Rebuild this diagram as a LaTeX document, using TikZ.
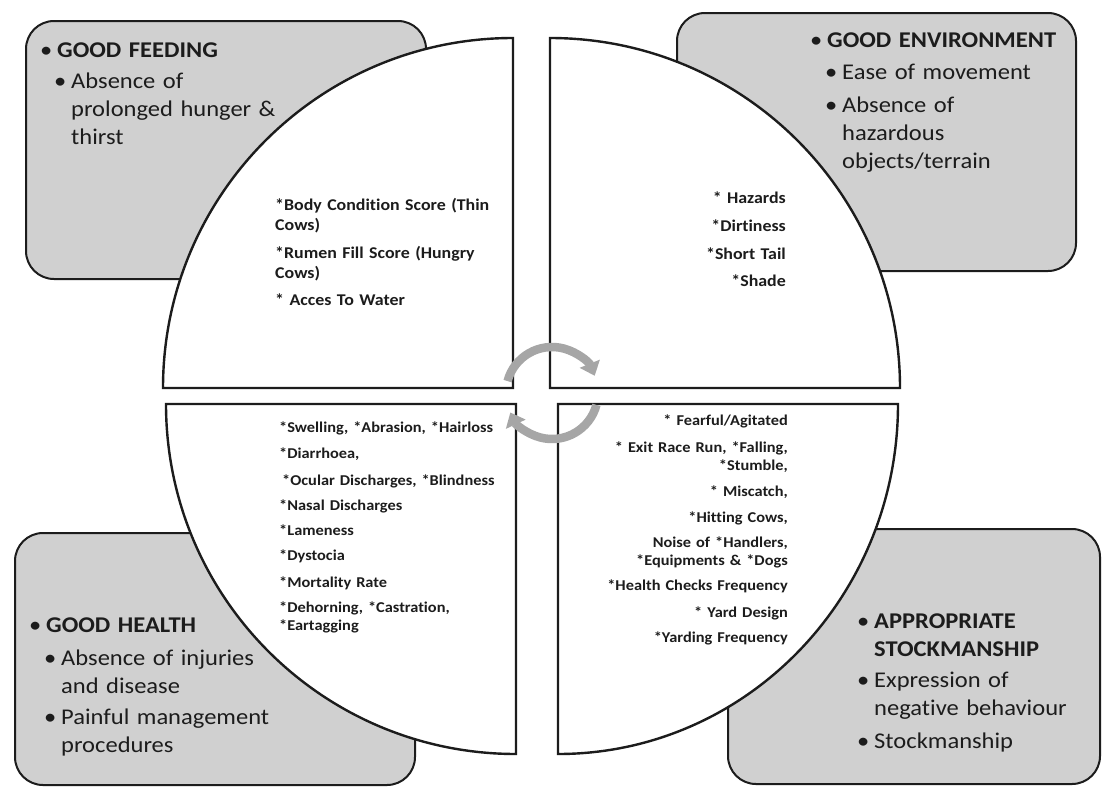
\documentclass[tikz,border=0pt]{standalone}
\usepackage{fontspec}
\setmainfont{Carlito}[FakeStretch=1.09,Ligatures=NoCommon]
\usepackage{xcolor}
\usetikzlibrary{arrows.meta}
\definecolor{panelgray}{HTML}{D0D0D0}
\definecolor{cyclegray}{HTML}{A6A6A6}
\definecolor{ink}{HTML}{1C1C1C}
\newcommand\itm{\makebox[14pt][l]{\hspace*{-3pt}\textbullet}}
\newcommand\ind[1]{\hspace*{#1pt}}

\begin{document}
\begin{tikzpicture}[
  x=1pt,y=-1pt,
  panel/.style={draw=ink,fill=panelgray,line width=2pt,rounded corners=28pt,anchor=north west,inner sep=0pt},
  quad/.style={draw=ink,fill=white,line width=2.4pt,line join=miter},
  boxtext/.style={font=\fontsize{22.5}{28}\selectfont,text=ink,inner sep=0pt,align=left,anchor=base west},
  note/.style={font=\bfseries\fontsize{16.4}{20}\selectfont,text=ink,inner sep=0pt,text width=240pt},
  smallnote/.style={note,font=\bfseries\fontsize{15}{18}\selectfont},
  turn/.style={draw=cyclegray,line width=8.5pt,-{Triangle[length=13pt,width=21pt]}}
]
\useasboundingbox (0,0) rectangle (1102,787);
\fill[white] (0,0) rectangle (1102,787);

% corner panels
\node[panel,minimum width=400pt,minimum height=258pt] (feeding) at (25,20) {};
\node[panel,minimum width=399pt,minimum height=258pt] (environment) at (676,12) {};
\node[panel,minimum width=400pt,minimum height=252pt] (health) at (14,532) {};
\node[panel,minimum width=372pt,minimum height=255pt] (stockman) at (727,528) {};

% circle cut in four quarters
\draw[quad] (513,388) -- (163,388) arc[start angle=180,end angle=270,radius=350] -- cycle;
\draw[quad] (550,388) -- (550,38) arc[start angle=270,end angle=360,radius=350] -- cycle;
\draw[quad] (516,404) -- (166,404) arc[start angle=180,end angle=90,radius=350] -- cycle;
\draw[quad] (558,404) -- (558,754) arc[start angle=90,end angle=0,x radius=340,y radius=350] -- cycle;

% panel texts
\node[boxtext,text width=370pt] (feedtext) at (43,57) {\itm\textbf{GOOD FEEDING}\\[3pt]
  \ind{14}\itm Absence of\\\ind{28}prolonged hunger \&\\\ind{28}thirst};
\node[boxtext,text width=255pt] (envtext) at (813,47) {\itm\textbf{GOOD ENVIRONMENT}\\[4pt]
  \ind{15}\itm Ease of movement\\[5pt]\ind{15}\itm Absence of\\\ind{29}hazardous\\\ind{29}objects/terrain};
\node[boxtext,text width=370pt] (healthtext) at (32,632) {\itm\textbf{GOOD HEALTH}\\[5pt]
  \ind{15}\itm Absence of injuries\\\ind{29}and disease\\[3pt]\ind{15}\itm Painful management\\\ind{29}procedures};
\node[boxtext,text width=230pt] (stocktext) at (860,628) {\itm\textbf{APPROPRIATE}\\\ind{14}\textbf{STOCKMANSHIP}\\[3pt]
  \itm Expression of\\\ind{14}negative behaviour\\[5pt]\itm Stockmanship};

% indicators inside the quarters
\node[note,align=left,anchor=base west] (feedlist) at (275,210) {*Body Condition Score (Thin\\Cows)\\[8pt]
  *Rumen Fill Score (Hungry\\Cows)\\[7pt]* Acces To Water};
\node[note,align=right,anchor=base east,text width=200pt] (envlist) at (786,203) {* Hazards\\[8pt]*Dirtiness\\[8pt]
  *Short Tail\\[7pt]*Shade};
\node[smallnote,align=left,anchor=base west] (healthlist) at (279,432) {*Swelling, *Abrasion, *Hairloss\\[8pt]
  *Diarrhoea,\\[9pt]\ind{3}*Ocular Discharges, *Blindness\\[7pt]*Nasal Discharges\\[7pt]*Lameness\\[7pt]
  *Dystocia\\[9pt]*Mortality Rate\\[7pt]*Dehorning, *Castration,\\{*}Eartagging};
\node[smallnote,align=right,anchor=base east] (stocklist) at (788,425) {* Fearful/Agitated\\[9pt]
  * Exit Race Run, *Falling,\\{*}Stumble,\\[8pt]* Miscatch,\\[8pt]*Hitting Cows,\\[7pt]
  Noise of *Handlers,\\{*}Equipments \& *Dogs\\[7pt]*Health Checks Frequency\\[9pt]* Yard Design\\[7pt]
  *Yarding Frequency};

% cycle arrows in the middle
\coordinate (hub) at (552,393);
\draw[turn] (hub) ++(195:46) arc[start angle=195,end angle=338,radius=46];
\draw[turn] (hub) ++(15:46) arc[start angle=15,end angle=155,radius=46];
\end{tikzpicture}
\end{document}
